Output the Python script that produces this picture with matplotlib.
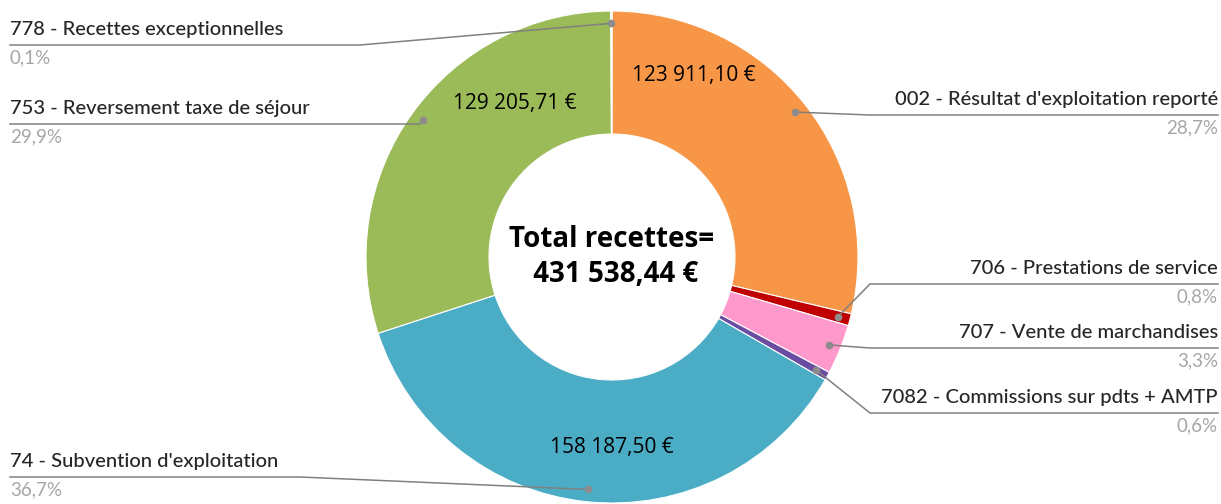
import matplotlib.pyplot as plt
import numpy as np

# data
codes = ["002 - Résultat d'exploitation reporté", "706 - Prestations de service",
         "707 - Vente de marchandises", "7082 - Commissions sur pdts + AMTP",
         "74 - Subvention d'exploitation", "753 - Reversement taxe de séjour",
         "778 - Recettes exceptionnelles"]
values = [123911.10, 3400.00, 14100.00, 2400.00, 158187.50, 129205.71, 334.13]
colors = ["#F79646", "#C00000", "#FF99CC", "#6A4CA0", "#4BACC6", "#9BBB59", "#A5A5A5"]
shown_values = ["123 911,10 €", "", "", "", "158 187,50 €", "129 205,71 €", ""]
total_text = "Total recettes=\n 431 538,44 €"

# layout (pixel coords, y from top)
W, H = 1221, 504
cx, cy, R = 612, 257, 246
# label: (side, line y, elbow x)
label_layout = [
    ("right", 115, 870),
    ("right", 284, 870),
    ("right", 348, 870),
    ("right", 413, 870),
    ("left", 477, 300),
    ("left", 124, 420),
    ("left", 45, 360),
]
value_pos = [(694, 76), None, None, None, (612, 447), (515, 103), None]

fig = plt.figure(figsize=(W / 100, H / 100), dpi=100)
ax = fig.add_axes([0, 0, 1, 1])

wedges, _ = ax.pie(values, colors=colors, startangle=90, counterclock=False,
                   center=(cx, H - cy), radius=R,
                   wedgeprops=dict(width=R * 0.5, edgecolor="white", linewidth=0.8))
ax.set_xlim(0, W)
ax.set_ylim(0, H)
ax.set_aspect("equal")
ax.axis("off")

total = sum(values)
lab_font = "Lato"
for w, name, v, (side, ly, ex) in zip(wedges, codes, values, label_layout):
    ang = np.deg2rad((w.theta1 + w.theta2) / 2)
    dx = cx + 0.95 * R * np.cos(ang)
    dy = (H - cy) + 0.95 * R * np.sin(ang)
    y = H - ly
    pct = f"{100 * v / total:.1f}%".replace(".", ",")
    if side == "right":
        x1 = 1218
        ha = "right"
    else:
        x1 = 10
        ha = "left"
    ax.plot([dx, ex, x1], [dy, y, y], color="#808080", lw=1.1, zorder=3)
    ax.text(x1, y + 7, name, ha=ha, va="bottom", fontsize=14.5,
            family=lab_font, fontweight="medium", color="#262626")
    ax.text(x1, y - 4, pct, ha=ha, va="top", fontsize=13.5,
            family=lab_font, color="#A6A6A6")
    ax.plot(dx, dy, "o", color="#8C8C8C", ms=4.5, zorder=4)

for txt, pos in zip(shown_values, value_pos):
    if pos is None:
        continue
    ax.text(pos[0], H - pos[1], txt, ha="center", va="center", fontsize=15,
            family="Open Sans", color="black")

ax.text(cx, H - 257, total_text, ha="center", va="center", fontsize=20,
        family="Open Sans", fontweight="bold", linespacing=1.25)

fig.savefig("out.png", dpi=100)
